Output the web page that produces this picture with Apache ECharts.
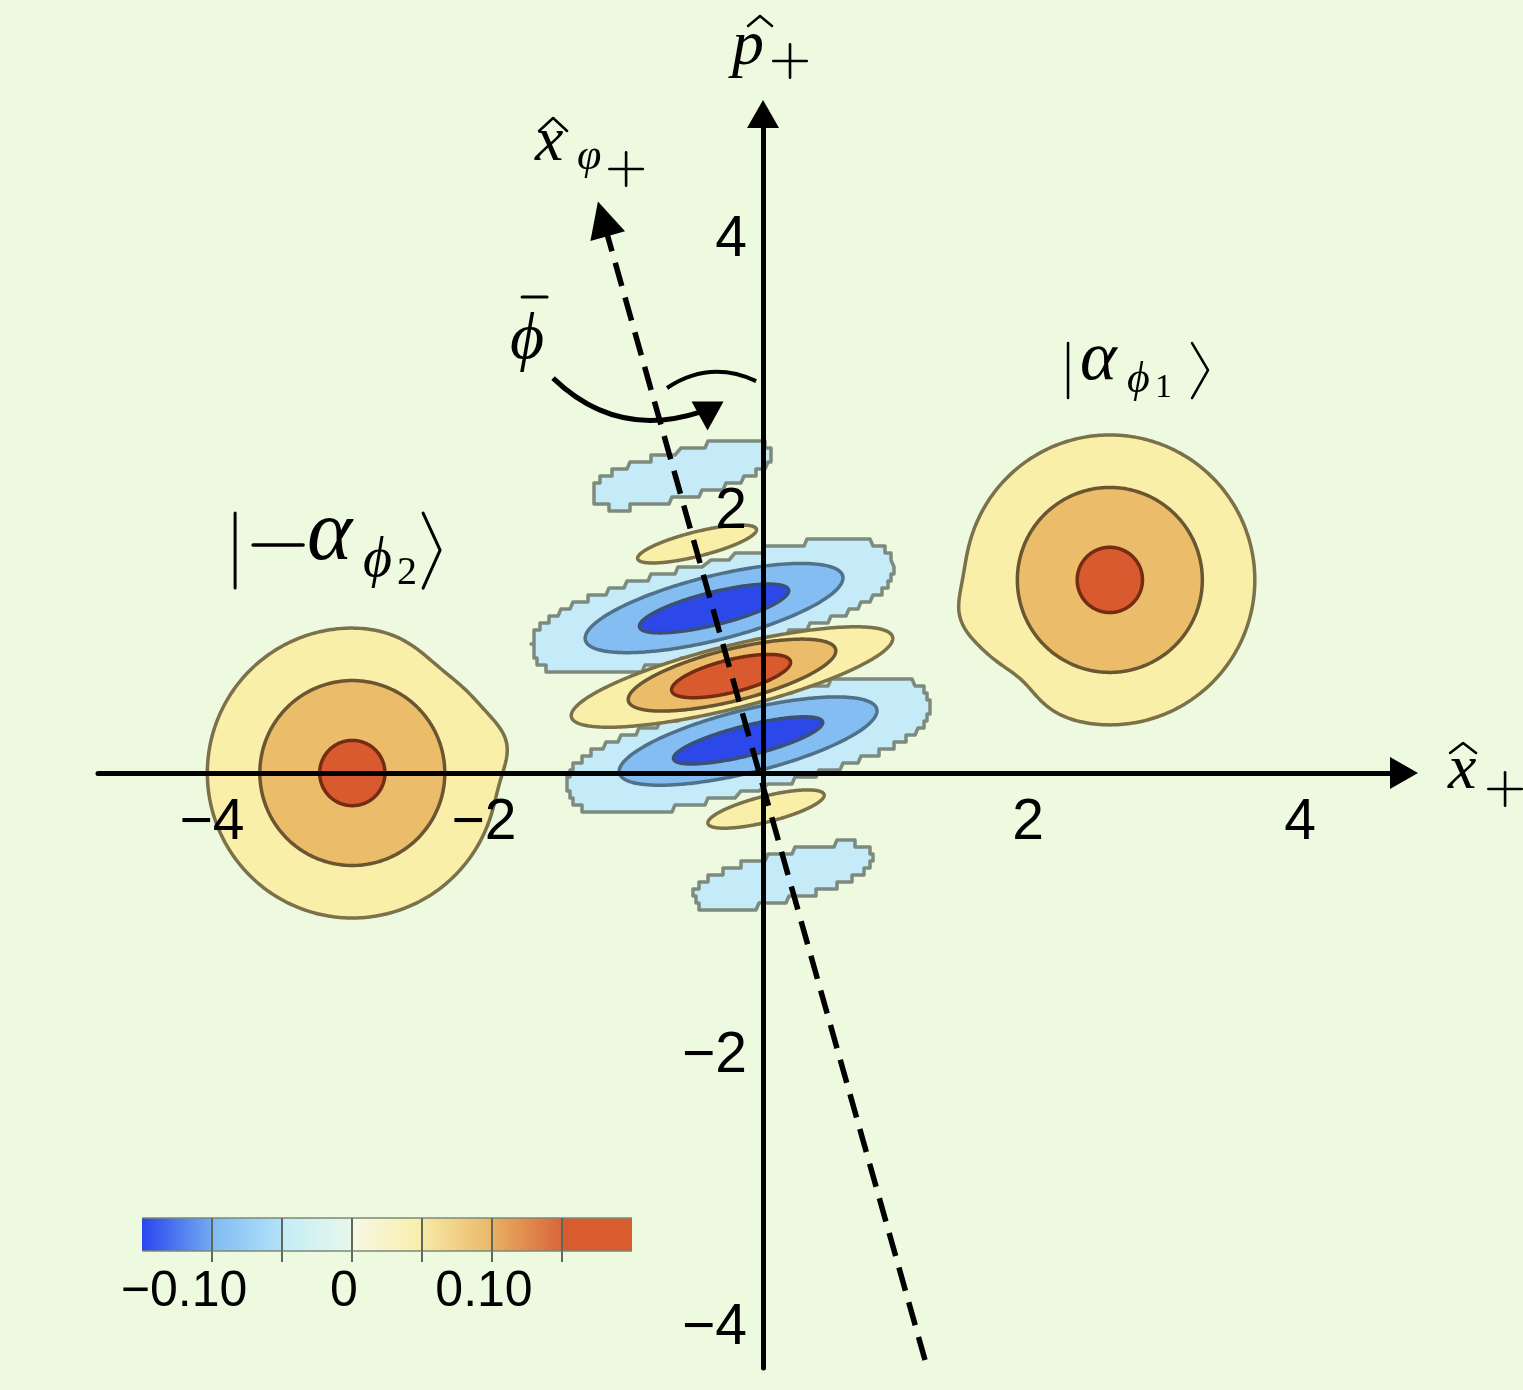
<!DOCTYPE html>
<html><head><meta charset="utf-8">
<script src="https://cdn.jsdelivr.net/npm/echarts@6/dist/echarts.min.js"></script>
<style>html,body{margin:0;padding:0;background:#EDFADF}#c{width:1523px;height:1390px}</style>
</head><body><div id="c"></div><script>
// ---------------- data ----------------
const xRange = [-4.89, 4.713];
const yRange = [-4.375, 4.846];
const xTickValues = [-4, -2, 2, 4];
const yTickValues = [-4, -2, 2, 4];

// coherent states |alpha_phi1> and |-alpha_phi2>
const blobCenters = [[2.55, 1.42], [-3.02, 0.0]];
const blobLevels = [0.05, 0.10, 0.15];
const blobRadii = [1.066, 0.68, 0.24];
// deformation of the outermost contour: [angle deg, dr, width deg]
const blobBumps = [
  [[194, 0.07, 12], [228, -0.085, 15]],
  [[11, 0.09, 12], [50, -0.06, 18]]
];

// interference fringes
const fringeTilt = 14;
const fringeCenters = [
  [-0.596, 2.199], [-0.485, 1.684],
  [-0.368, 1.22], [-0.36, 1.213], [-0.36, 1.21],
  [-0.228, 0.706], [-0.228, 0.72], [-0.235, 0.713],
  [-0.107, 0.2], [-0.11, 0.235], [-0.11, 0.24],
  [0.022, -0.265], [0.147, -0.765]
];
const fringeSemiMajor = [0.67, 0.45, 1.36, 0.975, 0.565, 1.217, 0.785, 0.45, 1.37, 0.975, 0.565, 0.44, 0.67];
const fringeSemiMinor = [0.17, 0.09, 0.33, 0.235, 0.12, 0.23, 0.19, 0.12, 0.33, 0.23, 0.11, 0.095, 0.17];
const fringeLevels   = [-0.05, 0.05, -0.05, -0.10, -0.15, 0.05, 0.10, 0.15, -0.05, -0.10, -0.15, 0.05, -0.05];

// quadrature axis x_phi (dashed) and angle arrows
const dashedAxis = [[1.191, -4.316], [-1.178, 4.075]];
const phiArrowCurve = [[-1.544, 2.904], [-0.463, 2.654]];
const angleArc = [[-0.706, 2.831], [-0.051, 2.882]];
const phiArrowHead = [[-0.408, 2.625]];

// colour bar
const cbStops = [-0.15, -0.10, -0.05, 0, 0.05, 0.10, 0.15, 0.20];
const cbTickValues = [-0.10, -0.05, 0, 0.05, 0.10, 0.15];
const cbLabelValues = [-0.10, 0, 0.10];

// annotation anchors (data coords) : p, x_phi, phibar, alpha1, -alpha2, x
const annotAnchors = [[-0.228, 5.199], [-1.676, 4.493], [-1.86, 3.037], [2.228, 2.875], [-3.904, 1.551], [5.037, -0.125]];

// ---------------- styles ----------------
const levelFill = {'-0.15': '#2C48E8', '-0.1': '#84BDF2', '-0.05': '#C5EBF8', '0.05': '#FAEFA8', '0.1': '#EBBD6B', '0.15': '#D95A2E'};
const levelStroke = {'-0.15': '#3B5174', '-0.1': '#4F7189', '-0.05': '#7D8B7F', '0.05': '#7B714A', '0.1': '#6A5631', '0.15': '#742C12'};
const cbSegStart = ['#2A45EE', '#7EBBF4', '#C3EDF6', '#F6F8E4', '#F8E9A6', '#E8B062', '#D95C2E'];
const cbSegEnd   = ['#72ABF2', '#B4E2F8', '#E8F7EC', '#F9EEAB', '#E9B867', '#DA6539', '#D95C2E'];
const SERIF = "'Liberation Serif','DejaVu Serif',serif";
const SANS = "'Liberation Sans',Arial,sans-serif";

// ---------------- build shapes ----------------
const lv = v => String(Math.round(v * 100) / 100);
const shapes = [];
blobCenters.forEach((c, bi) => {
  blobLevels.forEach((L, li) => {
    shapes.push({kind: 'circle', cx: c[0], cy: c[1], r: blobRadii[li], level: L, bumps: li === 0 ? blobBumps[bi] : []});
  });
});
fringeCenters.forEach((c, i) => {
  shapes.push({kind: 'ellipse', cx: c[0], cy: c[1], a: fringeSemiMajor[i], b: fringeSemiMinor[i], level: fringeLevels[i], tilt: fringeTilt});
});
const order = L => (L === -0.05 ? 0 : L === 0.05 ? 1 : Math.abs(L) < 0.12 ? 2 : 3);
shapes.sort((p, q) => order(p.level) - order(q.level));

function shapePoints(s, api) {
  const pts = [];
  const N = 360;
  const t = (s.tilt || 0) * Math.PI / 180;
  const jag = s.level === -0.05;
  const n = jag ? 2.6 : 2;
  for (let i = 0; i < N; i++) {
    const th = i / N * 2 * Math.PI;
    let dx, dy;
    if (s.kind === 'circle') {
      let r = s.r;
      s.bumps.forEach(([ang, amp, w]) => {
        const d = ((th * 180 / Math.PI - ang + 540) % 360) - 180;
        r += amp * Math.exp(-(d / w) * (d / w));
      });
      dx = r * Math.cos(th); dy = r * Math.sin(th);
    } else {
      const c = Math.cos(th), sn = Math.sin(th), e = 2 / n;
      const u = s.a * Math.sign(c) * Math.pow(Math.abs(c), e);
      const v = s.b * Math.sign(sn) * Math.pow(Math.abs(sn), e);
      dx = u * Math.cos(t) - v * Math.sin(t);
      dy = u * Math.sin(t) + v * Math.cos(t);
    }
    let p = api.coord([s.cx + dx, s.cy + dy]);
    if (jag) p = [Math.round(p[0] / 3) * 3, Math.round(p[1] / 7) * 7];
    const last = pts[pts.length - 1];
    if (!last || last[0] !== p[0] || last[1] !== p[1]) pts.push(p);
  }
  return pts;
}

// ---------------- annotations ----------------
function txt(s, x, base, size, italic, align) {
  return {type: 'text', x: x, y: base - 0.3 * size,
    style: {text: s, font: (italic === false ? '' : 'italic ') + size + 'px ' + SERIF, fill: '#000',
      align: align || 'left', verticalAlign: 'middle'}};
}
function pl(points, w) {
  return {type: 'polyline', shape: {points: points}, style: {stroke: '#000', lineWidth: w || 2.5, fill: null, lineCap: 'round', lineJoin: 'round'}};
}
function plus(cx, cy, size) {
  const h = size * 0.38;
  return {type: 'group', children: [pl([[cx - h, cy], [cx + h, cy]], 2.6), pl([[cx, cy - h], [cx, cy + h]], 2.6)]};
}
const annotPieces = [
  () => [txt('p', 0, 0, 64), pl([[16, -40], [28, -50], [40, -40]]), plus(58, -5, 44)],
  () => [txt('x', 0, 0, 64), pl([[4, -31], [18, -44], [32, -31]]), txt('\u03C6', 42, 9, 44), plus(91, 7, 44)],
  () => [txt('\u03D5', 0, 0, 66), pl([[12, -63], [37, -63]], 3)],
  () => [pl([[2, -39], [2, 16]]), txt('\u03B1', 14, 0, 70), txt('\u03D5', 61, 12, 44), txt('1', 89, 16, 34, false), pl([[126, -39], [142, -12], [126, 16]])],
  () => [pl([[3, -49], [3, 26]], 3), pl([[21, -17], [71, -17]], 3.5), txt('\u03B1', 75, 0, 86), txt('\u03D5', 131, 16, 56), txt('2', 165, 23, 40, false), pl([[191, -49], [208, -12], [191, 26]], 3)],
  () => [txt('x', 0, 0, 64), pl([[2, -37], [15, -47], [28, -37]]), plus(57, -1, 44)]
];

// tick labels of the main axes: [x, y, axis(0=x,1=y)]
const tickLabelData = xTickValues.map(v => [v, 0, 0]).concat(yTickValues.map(v => [0, v, 1]));

// ---------------- chart ----------------
const chart = echarts.init(document.getElementById('c'), null, {renderer: 'canvas'});
const minusFmt = v => (v < 0 ? '\u2212' + Math.abs(v) : String(v));

const option = {
  backgroundColor: '#EDFADF',
  animation: false,
  grid: [
    {left: 98, top: 114, width: 1306, height: 1254, outerBoundsMode: 'none', containLabel: false},
    {left: 142, top: 1218, width: 490, height: 33, outerBoundsMode: 'none', containLabel: false}
  ],
  xAxis: [
    {type: 'value', gridIndex: 0, min: xRange[0], max: xRange[1], z: 10,
      axisLine: {show: true, onZero: true, symbol: ['none', 'triangle'], symbolSize: [32, 28], lineStyle: {color: '#000', width: 5}},
      axisTick: {show: false}, splitLine: {show: false}, axisLabel: {show: false}},
    {type: 'value', gridIndex: 1, min: cbStops[0], max: cbStops[cbStops.length - 1], position: 'bottom',
      axisLine: {show: false}, splitLine: {show: false},
      axisTick: {show: true, customValues: cbTickValues, length: 11, lineStyle: {color: '#5E685B', width: 2}},
      axisLabel: {customValues: cbLabelValues, fontSize: 50, fontFamily: SANS, color: '#000', margin: 41, verticalAlign: 'middle',
        padding: [0, 16, 0, 0],
        formatter: v => (Math.abs(v) < 1e-9 ? '0' : v < 0 ? '{neg|\u2212' + Math.abs(v).toFixed(2) + '}' : v.toFixed(2)),
        rich: {neg: {fontSize: 50, fontFamily: SANS, color: '#000', padding: [0, 40, 0, 0]}}}}
  ],
  yAxis: [
    {type: 'value', gridIndex: 0, min: yRange[0], max: yRange[1], z: 10,
      axisLine: {show: true, onZero: true, symbol: ['none', 'triangle'], symbolSize: [32, 28], lineStyle: {color: '#000', width: 5}},
      axisTick: {show: false}, splitLine: {show: false}, axisLabel: {show: false}},
    {type: 'value', gridIndex: 1, min: 0, max: 1, show: false}
  ],
  series: [
    {
      type: 'custom', name: 'contours', xAxisIndex: 0, yAxisIndex: 0, z: 2,
      data: shapes.map((s, i) => [s.cx, s.cy, i]),
      encode: {x: 0, y: 1},
      renderItem: (params, api) => {
        const s = shapes[api.value(2)];
        return {type: 'polygon', shape: {points: shapePoints(s, api)},
          style: {fill: levelFill[lv(s.level)], stroke: levelStroke[lv(s.level)], lineWidth: 3.5, lineJoin: 'round'}};
      }
    },
    {
      type: 'lines', name: 'quadrature', coordinateSystem: 'cartesian2d', xAxisIndex: 0, yAxisIndex: 0, z: 5,
      symbol: ['none', 'triangle'], symbolSize: 36,
      lineStyle: {color: '#000', width: 5.5, type: [24, 12], opacity: 1},
      data: [{coords: dashedAxis}]
    },
    {
      type: 'lines', name: 'angle', coordinateSystem: 'cartesian2d', xAxisIndex: 0, yAxisIndex: 0, z: 5,
      symbol: 'none',
      lineStyle: {color: '#000', width: 5, opacity: 1},
      data: [
        {coords: phiArrowCurve, lineStyle: {curveness: -0.3, width: 5}},
        {coords: angleArc, lineStyle: {curveness: 0.28, width: 4}}
      ]
    },
    {
      type: 'scatter', name: 'arrowhead', xAxisIndex: 0, yAxisIndex: 0, z: 6,
      symbol: 'triangle', symbolRotate: 180, symbolSize: [32, 29],
      itemStyle: {color: '#000', opacity: 1}, data: phiArrowHead, silent: true
    },
    {
      type: 'custom', name: 'tickLabels', xAxisIndex: 0, yAxisIndex: 0, z: 12, clip: false, silent: true,
      data: tickLabelData, encode: {x: 0, y: 1},
      renderItem: (params, api) => {
        const isY = api.value(2) === 1;
        const v = isY ? api.value(1) : api.value(0);
        const p = api.coord([api.value(0), api.value(1)]);
        return {type: 'text', x: isY ? p[0] - 16 : p[0] - 7, y: isY ? p[1] + 11 : p[1] + 50,
          style: {text: minusFmt(v), font: '57px ' + SANS, fill: '#000', align: isY ? 'right' : 'center', verticalAlign: 'middle'}};
      }
    },
    {
      type: 'custom', name: 'annotations', xAxisIndex: 0, yAxisIndex: 0, z: 8, clip: false, silent: true,
      data: annotAnchors.map((p, i) => [p[0], p[1], i]),
      encode: {x: 0, y: 1},
      renderItem: (params, api) => {
        const p = api.coord([api.value(0), api.value(1)]);
        return {type: 'group', x: p[0], y: p[1], children: annotPieces[api.value(2)]()};
      }
    },
    {
      type: 'custom', name: 'colorbar', xAxisIndex: 1, yAxisIndex: 1, z: 2, silent: true,
      data: cbStops.slice(0, -1).map((s, i) => [s, cbStops[i + 1], i]),
      encode: {x: [0, 1]},
      renderItem: (params, api) => {
        const i = api.value(2);
        const a = api.coord([api.value(0), 1]);
        const b = api.coord([api.value(1), 0]);
        const children = [
          {type: 'rect', shape: {x: a[0], y: a[1], width: b[0] - a[0], height: b[1] - a[1]},
            style: {fill: new echarts.graphic.LinearGradient(0, 0, 1, 0, [{offset: 0, color: cbSegStart[i]}, {offset: 1, color: cbSegEnd[i]}])}},
          {type: 'line', shape: {x1: a[0], y1: a[1], x2: b[0], y2: a[1]}, style: {stroke: '#7C877A', lineWidth: 1.5}},
          {type: 'line', shape: {x1: a[0], y1: b[1], x2: b[0], y2: b[1]}, style: {stroke: '#7C877A', lineWidth: 1.5}}
        ];
        if (i > 0) children.push({type: 'line', shape: {x1: a[0], y1: a[1], x2: a[0], y2: b[1]}, style: {stroke: '#5E685B', lineWidth: 2}});
        return {type: 'group', children: children};
      }
    }
  ]
};
chart.setOption(option);
</script></body></html>
